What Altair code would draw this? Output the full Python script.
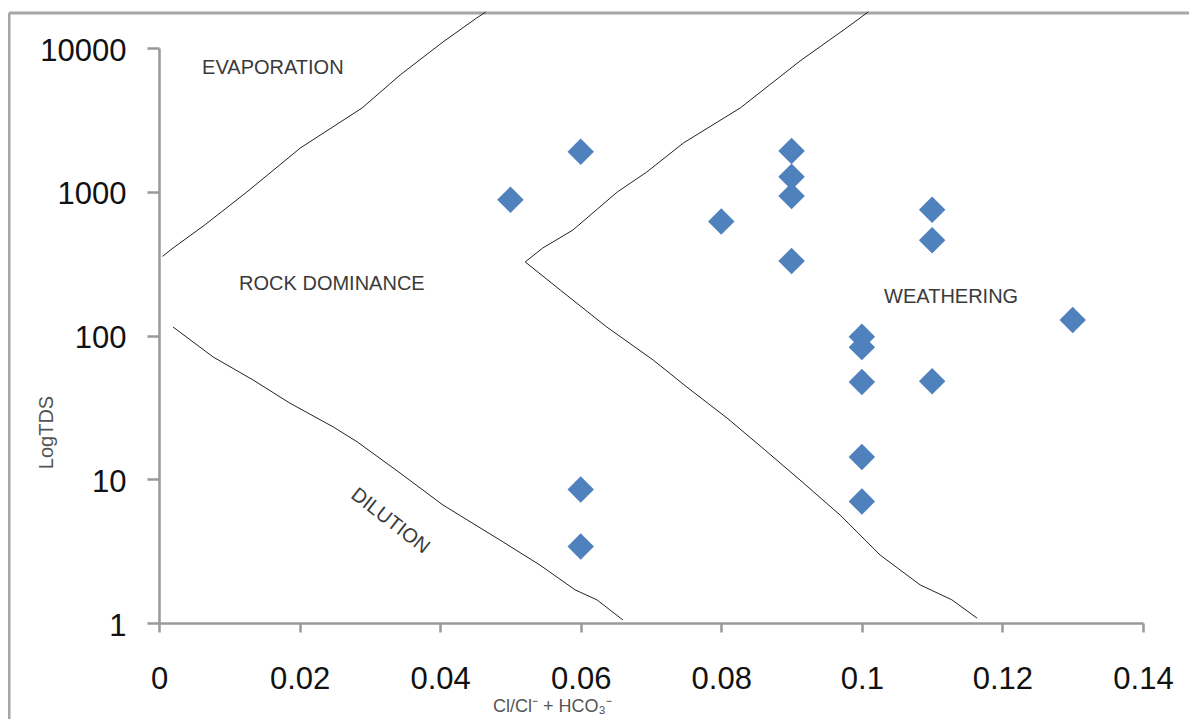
import altair as alt
import pandas as pd

# ---- data ----
pt_x = [0.05, 0.06, 0.06, 0.06, 0.08, 0.09, 0.09, 0.09, 0.09,
        0.10, 0.10, 0.10, 0.10, 0.10, 0.11, 0.11, 0.11, 0.13]
pt_tds = [880, 1900, 8.5, 3.4, 620, 1920, 1270, 935, 330,
          98, 83, 47.5, 14.3, 7.0, 750, 460, 48, 128]

# boundary curves (x, TDS)
evap_x = [0.0005, 0.002, 0.0065, 0.0125, 0.0201, 0.0289, 0.0343, 0.0404, 0.0452, 0.0465]
evap_y = [355, 406, 587, 996, 2014, 3827, 6490, 11010, 16180, 17800]

upper_x = [0.0521, 0.0546, 0.0589, 0.0652, 0.0694, 0.0746, 0.0827, 0.0912, 0.0976, 0.1009]
upper_y = [325, 406, 542, 996, 1372, 2182, 3827, 8120, 13560, 17800]

lower_x = [0.0521, 0.0571, 0.0637, 0.0703, 0.0751, 0.0808, 0.0862, 0.0912, 0.0969,
           0.1026, 0.1083, 0.1128, 0.1164]
lower_y = [325, 207, 114.6, 67.6, 43.8, 26.7, 16.0, 9.88, 5.64, 2.97, 1.84, 1.45, 1.08]

dil_x = [0.0020, 0.0077, 0.0134, 0.0186, 0.0248, 0.0282, 0.0343, 0.0404, 0.0485,
         0.0542, 0.0592, 0.0623, 0.0660]
dil_y = [114.6, 70.9, 49.0, 33.9, 23.1, 18.2, 11.05, 6.62, 3.78, 2.53, 1.70, 1.45, 1.05]

zone_labels = ["EVAPORATION", "ROCK DOMINANCE", "WEATHERING"]
zone_x = [0.0162, 0.0246, 0.1127]
zone_y = [7260, 230, 185]
dil_label = ["DILUTION"]
dil_label_x = [0.0329]
dil_label_y = [5.12]

x_ticks = [0, 0.02, 0.04, 0.06, 0.08, 0.10, 0.12, 0.14]
y_ticks = [1, 10, 100, 1000, 10000]

# ---- tables ----
pts = pd.DataFrame({"x": pt_x, "tds": pt_tds})
rows = []
for name, xs, ys in [("evap", evap_x, evap_y), ("upper", upper_x, upper_y),
                     ("lower", lower_x, lower_y), ("dil", dil_x, dil_y)]:
    for i, (a, b) in enumerate(zip(xs, ys)):
        rows.append({"curve": name, "i": i, "x": a, "tds": b})
curves = pd.DataFrame(rows)
zones = pd.DataFrame({"label": zone_labels, "x": zone_x, "tds": zone_y})
dil = pd.DataFrame({"label": dil_label, "x": dil_label_x, "tds": dil_label_y})

xs = alt.Scale(domain=[0, 0.14], nice=False, zero=False)
ys = alt.Scale(type="log", domain=[1, 10000], nice=False)

X = alt.X("x:Q", scale=xs, axis=alt.Axis(
    values=x_ticks, format=".2~f", title="Cl/Cl⁻ + HCO₃⁻",
    tickSize=9, labelPadding=32, labelFlush=False, titleX=393, titleY=83,
    titleBaseline="middle", titleAlign="center", titleFontSize=18))
Y = alt.Y("tds:Q", scale=ys, axis=alt.Axis(
    values=y_ticks, format="d", title="LogTDS",
    tickSize=12, labelPadding=21, labelOffset=3, labelFlush=False,
    titleX=-113, titleY=384, titleFontSize=20,
    titleBaseline="middle", titleAlign="center"))

lines = alt.Chart(curves).mark_line(color="#222222", strokeWidth=1).encode(
    x=X, y=Y, detail="curve:N", order="i:Q")

points = alt.Chart(pts).mark_point(shape="diamond", filled=True, size=700,
                                   color="#4f81bd", opacity=1).encode(
    x=alt.X("x:Q", scale=xs), y=alt.Y("tds:Q", scale=ys))

ztext = alt.Chart(zones).mark_text(font="Liberation Sans", fontSize=20,
                                   color="#3a3a3a").encode(
    x=alt.X("x:Q", scale=xs), y=alt.Y("tds:Q", scale=ys), text="label:N")

dtext = alt.Chart(dil).mark_text(font="Liberation Sans", fontSize=20,
                                 color="#3a3a3a", angle=38).encode(
    x=alt.X("x:Q", scale=xs), y=alt.Y("tds:Q", scale=ys), text="label:N")

one = pd.DataFrame({"a": [0]})
frame_top = alt.Chart(one).mark_rule(color="#a6a6a6", strokeWidth=3).encode(
    x=alt.value(-150), x2=alt.value(1060), y=alt.value(-35))
frame_left = alt.Chart(one).mark_rule(color="#a6a6a6", strokeWidth=3).encode(
    x=alt.value(-150), y=alt.value(-35), y2=alt.value(720))

chart = alt.layer(frame_top, frame_left, lines, ztext, dtext, points).properties(
    width=984, height=575,
    autosize=alt.AutoSizeParams(type="none"),
    padding={"left": 151, "top": 40, "right": 46, "bottom": 96},
).configure_view(stroke=None).configure_axis(
    grid=False,
    domainColor="#999999", domainWidth=2.5,
    tickColor="#999999", tickWidth=2.5,
    labelFont="Liberation Sans", labelFontSize=31, labelColor="#111111",
    titleFont="Liberation Sans", titleFontWeight="normal",
    titleColor="#555555",
)

chart.save("out.html", embed_options={"renderer": "svg", "actions": False})
